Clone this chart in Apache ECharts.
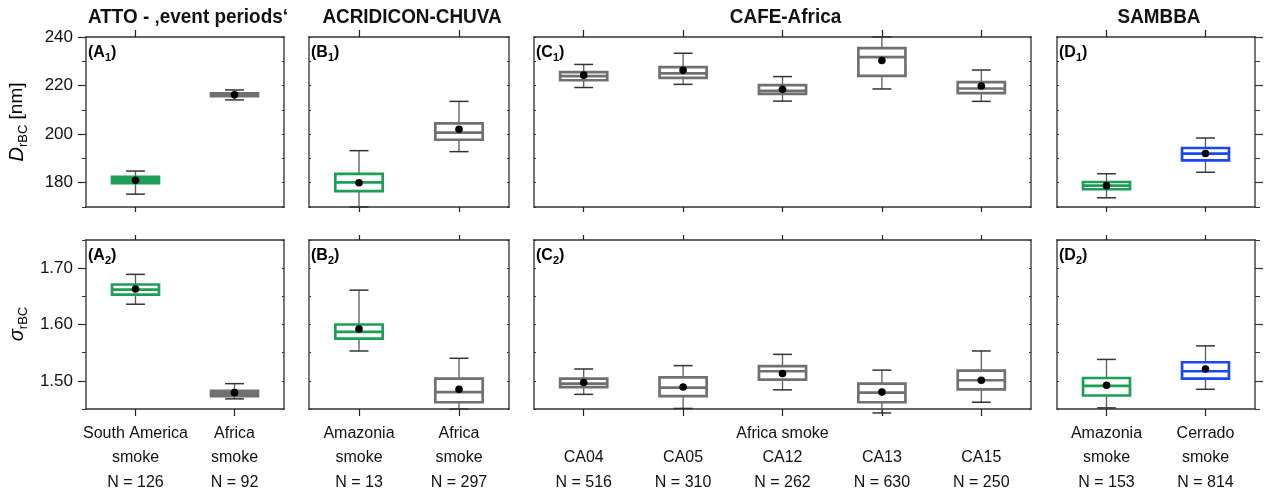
<!DOCTYPE html>
<html>
<head>
<meta charset="utf-8">
<script src="https://cdn.jsdelivr.net/npm/echarts@6/dist/echarts.min.js"></script>
<style>
  html, body { margin: 0; padding: 0; background: #fff; }
  #chart { width: 1266px; height: 497px; }
</style>
</head>
<body>
<div id="chart"></div>
<script>
// ---- Data: per campaign, each box is [min, Q1, median, Q3, max, mean] ----
const campaignTitles = ['ATTO - \u201aevent periods\u2018', 'ACRIDICON-CHUVA', 'CAFE-Africa', 'SAMBBA'];

const attoCategories = ['South America\nsmoke\nN = 126', 'Africa\nsmoke\nN = 92'];
const attoDiameter = [
  [175.3, 179.8, 181.2, 182.4, 184.8, 181.0],
  [214.1, 215.6, 216.3, 216.8, 218.2, 216.2]
];
const attoSigma = [
  [1.636, 1.653, 1.662, 1.671, 1.689, 1.663],
  [1.468, 1.473, 1.477, 1.482, 1.495, 1.479]
];

const acridiconCategories = ['Amazonia\nsmoke\nN = 13', 'Africa\nsmoke\nN = 297'];
const acridiconDiameter = [
  [170.0, 176.5, 180.1, 183.6, 193.2, 180.0],
  [192.8, 197.7, 200.6, 204.4, 213.5, 202.0]
];
const acridiconSigma = [
  [1.553, 1.575, 1.587, 1.600, 1.661, 1.592],
  [1.450, 1.462, 1.480, 1.504, 1.540, 1.485]
];

const cafeCategories = ['\nCA04\nN = 516', '\nCA05\nN = 310', 'Africa smoke\nCA12\nN = 262', '\nCA13\nN = 630', '\nCA15\nN = 250'];
const cafeDiameter = [
  [219.2, 222.2, 223.9, 225.5, 228.7, 224.3],
  [220.5, 223.2, 225.0, 227.6, 233.3, 226.3],
  [213.6, 216.6, 217.8, 220.2, 223.7, 218.5],
  [218.6, 224.0, 231.7, 235.4, 240.0, 230.3],
  [213.5, 216.9, 218.8, 221.4, 226.4, 219.8]
];
const cafeSigma = [
  [1.476, 1.489, 1.495, 1.504, 1.521, 1.497],
  [1.451, 1.473, 1.488, 1.506, 1.527, 1.489],
  [1.484, 1.502, 1.517, 1.526, 1.547, 1.513],
  [1.443, 1.462, 1.479, 1.495, 1.519, 1.480],
  [1.462, 1.485, 1.501, 1.518, 1.553, 1.501]
];

const sambbaCategories = ['Amazonia\nsmoke\nN = 153', 'Cerrado\nsmoke\nN = 814'];
const sambbaDiameter = [
  [173.8, 177.3, 178.8, 180.3, 183.7, 178.8],
  [184.3, 189.2, 192.0, 194.3, 198.4, 192.0]
];
const sambbaSigma = [
  [1.452, 1.474, 1.491, 1.505, 1.538, 1.492],
  [1.485, 1.504, 1.517, 1.533, 1.562, 1.521]
];

const diameterTicks = [180, 200, 220, 240];
const sigmaTicks = [1.5, 1.6, 1.7];
const panelLetters = ['A', 'B', 'C', 'D'];

// ---- Styling ----
const GREEN = '#1c9e57';
const GRAY = '#707070';
const BLUE = '#1848f2';
const FONT = '"Liberation Sans", Arial, sans-serif';

// solid[row][box]: narrow boxes drawn as filled bars
const campaigns = [
  { cats: attoCategories, rows: [attoDiameter, attoSigma], colors: [GREEN, GRAY], solid: [[true, true], [false, true]] },
  { cats: acridiconCategories, rows: [acridiconDiameter, acridiconSigma], colors: [GREEN, GRAY], solid: null },
  { cats: cafeCategories, rows: [cafeDiameter, cafeSigma], colors: [GRAY, GRAY, GRAY, GRAY, GRAY], solid: null },
  { cats: sambbaCategories, rows: [sambbaDiameter, sambbaSigma], colors: [GREEN, BLUE], solid: null }
];

// Panel geometry (pixels)
const columns = [
  { left: 86, width: 198 },
  { left: 309, width: 200 },
  { left: 534, width: 497 },
  { left: 1057, width: 198 }
];
const rowsGeom = [
  { top: 37, height: 170 },
  { top: 240, height: 169 }
];
const yRanges = [
  { min: 170, max: 240, interval: 10 },
  { min: 1.45, max: 1.75, interval: 0.05 }
];
const majorTicks = [diameterTicks, sigmaTicks];

function makeRenderer(colors, solidFlags) {
  return function (params, api) {
    const idx = api.value(0);
    const pMin = api.coord([idx, api.value(1)]);
    const pQ1 = api.coord([idx, api.value(2)]);
    const pMed = api.coord([idx, api.value(3)]);
    const pQ3 = api.coord([idx, api.value(4)]);
    const pMax = api.coord([idx, api.value(5)]);
    const pMean = api.coord([idx, api.value(6)]);
    const band = api.size([1, 0])[0];
    const hw = band * 0.237;
    const cw = band * 0.095;
    const cx = pMed[0];
    const color = colors[params.dataIndex];
    const solid = solidFlags ? solidFlags[params.dataIndex] : false;
    const whisker = { stroke: '#5a5a5a', lineWidth: 1.3 };
    const cap = { stroke: '#333', lineWidth: 1.5 };
    return {
      type: 'group',
      children: [
        { type: 'line', shape: { x1: cx, y1: pMax[1], x2: cx, y2: pQ3[1] }, style: whisker },
        { type: 'line', shape: { x1: cx, y1: pQ1[1], x2: cx, y2: pMin[1] }, style: whisker },
        { type: 'line', shape: { x1: cx - cw, y1: pMax[1], x2: cx + cw, y2: pMax[1] }, style: cap },
        { type: 'line', shape: { x1: cx - cw, y1: pMin[1], x2: cx + cw, y2: pMin[1] }, style: cap },
        { type: 'rect', shape: { x: cx - hw, y: pQ3[1], width: hw * 2, height: pQ1[1] - pQ3[1] },
          style: { fill: solid ? color : '#fff', stroke: color, lineWidth: 2.7 } },
        { type: 'line', shape: { x1: cx - hw, y1: pMed[1], x2: cx + hw, y2: pMed[1] },
          style: { stroke: color, lineWidth: 2.7 } },
        { type: 'circle', shape: { cx: pMean[0], cy: pMean[1], r: 3.8 }, style: { fill: '#000' } }
      ]
    };
  };
}

const grids = [], xAxes = [], yAxes = [], series = [];

for (let r = 0; r < 2; r++) {
  for (let p = 0; p < 4; p++) {
    const c = campaigns[p];
    const gi = grids.length;
    grids.push({ left: columns[p].left, width: columns[p].width, top: rowsGeom[r].top, height: rowsGeom[r].height, outerBoundsMode: 'none' });

    const xBottom = xAxes.length;
    xAxes.push({
      type: 'category', gridIndex: gi, data: c.cats, position: 'bottom', boundaryGap: true,
      axisLine: { show: true, onZero: false, lineStyle: { color: '#333', width: 1.5 } },
      axisTick: { show: true, alignWithLabel: true, length: r === 1 ? 7 : 5, lineStyle: { color: '#222', width: 1.2 } },
      axisLabel: r === 1 ? {
        show: true, interval: 0, fontFamily: FONT, fontSize: 16, color: '#111',
        lineHeight: 24.5, margin: 12
      } : { show: false },
      splitLine: { show: false }
    });
    xAxes.push({
      type: 'category', gridIndex: gi, data: c.cats, position: 'top', boundaryGap: true,
      axisLine: { show: true, onZero: false, lineStyle: { color: '#333', width: 1.5 } },
      axisTick: { show: true, alignWithLabel: true, length: r === 0 ? 7 : 5, lineStyle: { color: '#222', width: 1.2 } },
      axisLabel: { show: false },
      splitLine: { show: false }
    });

    const yr = yRanges[r];
    const major = majorTicks[r];
    const yLeft = yAxes.length;
    yAxes.push({
      type: 'value', gridIndex: gi, position: 'left', min: yr.min, max: yr.max, interval: yr.interval,
      splitLine: { show: false },
      axisLine: { show: true, lineStyle: { color: '#777', width: 2 } },
      axisTick: p === 0
        ? { show: true, inside: false, length: 8, customValues: major, lineStyle: { color: '#222', width: 1.2 } }
        : { show: true, inside: true, length: 2, lineStyle: { color: '#333', width: 1 } },
      axisLabel: p === 0 ? {
        show: true, customValues: major, fontFamily: FONT, fontSize: 17, color: '#111', margin: 13,
        formatter: r === 0 ? (v => String(Math.round(v))) : (v => Number(v).toFixed(2))
      } : { show: false }
    });
    if (p === 0) {
      yAxes.push({
        type: 'value', gridIndex: gi, position: 'left', min: yr.min, max: yr.max, interval: yr.interval,
        splitLine: { show: false }, axisLine: { show: false }, axisLabel: { show: false },
        axisTick: { show: true, inside: false, length: 4, lineStyle: { color: '#333', width: 1 } }
      });
    }
    yAxes.push({
      type: 'value', gridIndex: gi, position: 'right', min: yr.min, max: yr.max, interval: yr.interval,
      splitLine: { show: false },
      axisLine: { show: true, lineStyle: { color: '#777', width: 2 } },
      axisTick: p === 3
        ? { show: true, inside: false, length: 8, customValues: major, lineStyle: { color: '#333', width: 1.2 } }
        : { show: true, inside: true, length: 2, lineStyle: { color: '#333', width: 1 } },
      axisLabel: { show: false }
    });
    if (p === 3) {
      yAxes.push({
        type: 'value', gridIndex: gi, position: 'right', min: yr.min, max: yr.max, interval: yr.interval,
        splitLine: { show: false }, axisLine: { show: false }, axisLabel: { show: false },
        axisTick: { show: true, inside: false, length: 5, lineStyle: { color: '#333', width: 1 } }
      });
    }

    series.push({
      type: 'custom', xAxisIndex: xBottom, yAxisIndex: yLeft, z: 10, silent: true,
      renderItem: makeRenderer(c.colors, c.solid ? c.solid[r] : null),
      encode: { x: 0, y: [1, 2, 3, 4, 5, 6] },
      data: c.rows[r].map((v, i) => [i].concat(v))
    });
  }
}

// Text: campaign titles, panel tags, y-axis names
const graphic = [];
campaignTitles.forEach((t, p) => {
  graphic.push({
    type: 'text', x: columns[p].left + columns[p].width / 2 + 3, y: 17, scaleX: 0.9,
    style: { text: t, font: 'bold 21px ' + FONT, fill: '#111', align: 'center', verticalAlign: 'middle', textAlign: 'center', textVerticalAlign: 'middle' }
  });
});
for (let r = 0; r < 2; r++) {
  for (let p = 0; p < 4; p++) {
    graphic.push({
      type: 'text', x: columns[p].left + 2, y: rowsGeom[r].top + 16,
      style: {
        text: '{b|(' + panelLetters[p] + '}{s|' + (r + 1) + '}{b|)}',
        align: 'left', verticalAlign: 'middle', textAlign: 'left', textVerticalAlign: 'middle',
        rich: {
          b: { fontFamily: FONT, fontWeight: 'bold', fontSize: 16, color: '#111', lineHeight: 20, verticalAlign: 'middle' },
          s: { fontFamily: FONT, fontWeight: 'bold', fontSize: 11, color: '#111', lineHeight: 11, verticalAlign: 'bottom' }
        }
      }
    });
  }
}
const nameRich = {
  i: { fontFamily: FONT, fontStyle: 'italic', fontSize: 20, color: '#111', lineHeight: 25, verticalAlign: 'middle' },
  s: { fontFamily: FONT, fontSize: 13, color: '#111', lineHeight: 13, verticalAlign: 'bottom' },
  n: { fontFamily: FONT, fontSize: 19, color: '#111', lineHeight: 25, verticalAlign: 'middle' }
};
graphic.push({
  type: 'text', x: 17, y: 122, rotation: Math.PI / 2,
  style: { text: '{i|D}{s|rBC}{n| [nm]}', rich: nameRich, align: 'center', verticalAlign: 'middle', textAlign: 'center', textVerticalAlign: 'middle' }
});
graphic.push({
  type: 'text', x: 17, y: 324, rotation: Math.PI / 2,
  style: { text: '{i|\u03c3}{s|rBC}', rich: nameRich, align: 'center', verticalAlign: 'middle', textAlign: 'center', textVerticalAlign: 'middle' }
});

const chart = echarts.init(document.getElementById('chart'), null, { renderer: 'canvas' });
chart.setOption({
  animation: false,
  backgroundColor: '#fff',
  grid: grids,
  xAxis: xAxes,
  yAxis: yAxes,
  series: series,
  graphic: graphic
});
</script>
</body>
</html>
